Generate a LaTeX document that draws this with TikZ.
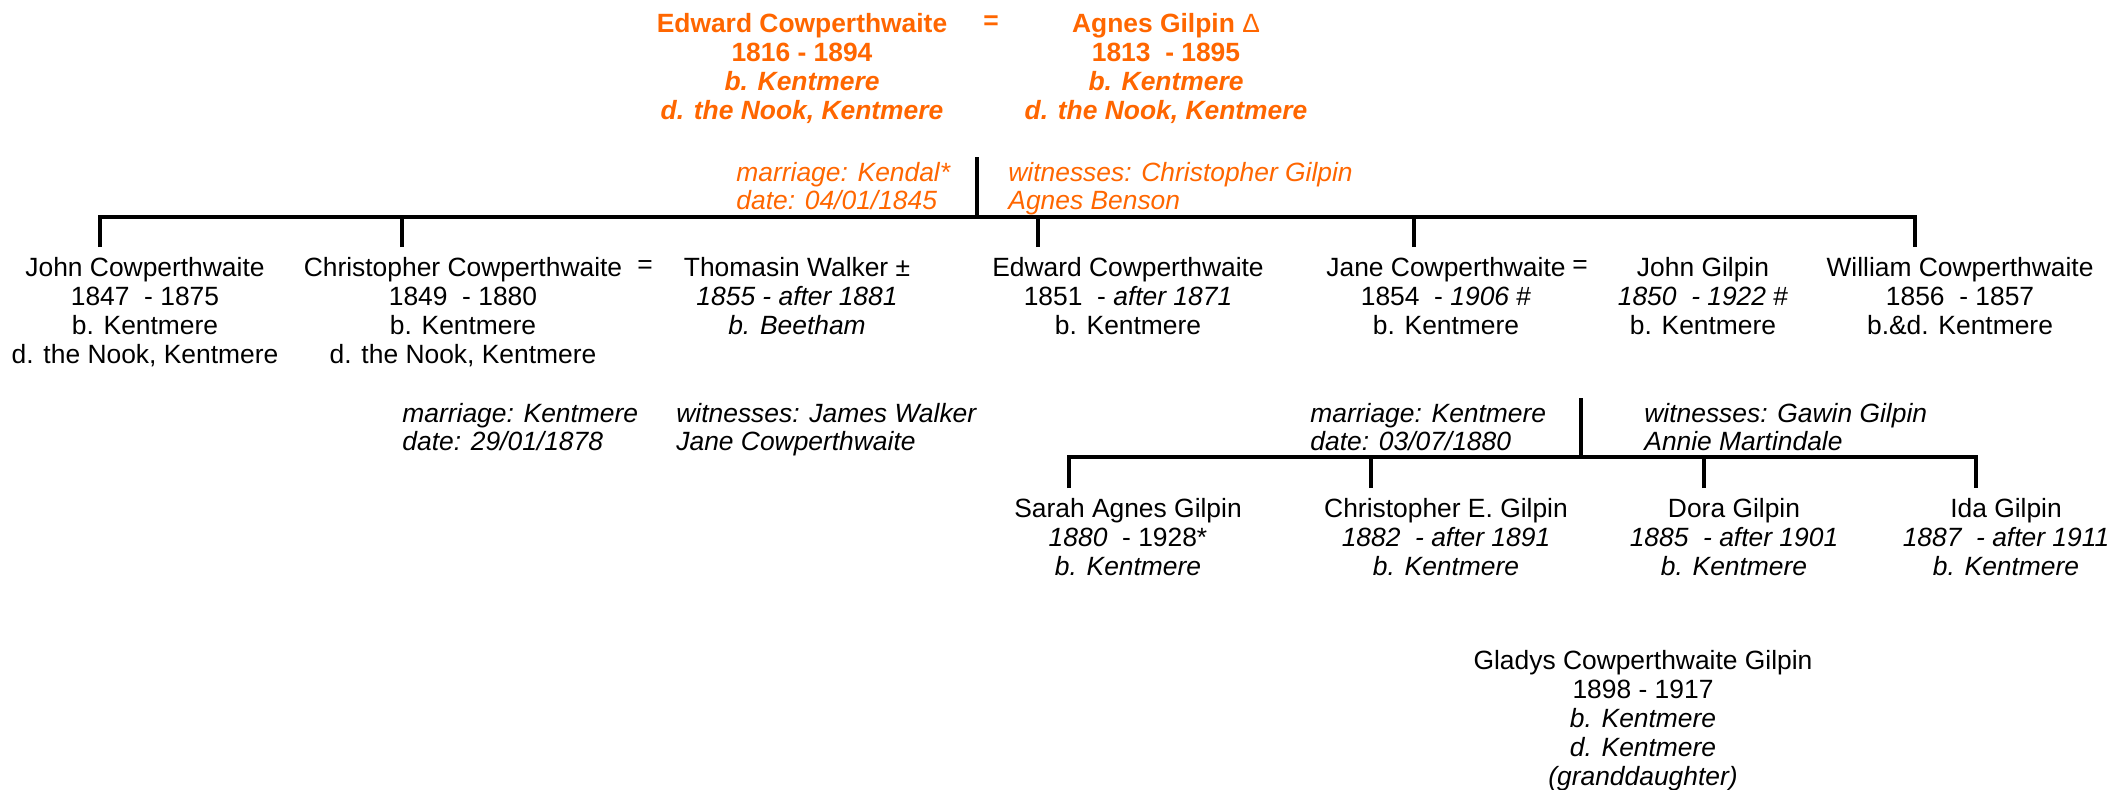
\documentclass[tikz,border=0pt]{standalone}
\usepackage{fontspec}
\setmainfont{Liberation Sans}
\usepackage{xcolor}

\definecolor{kinorange}{RGB}{255,102,0}

\begin{document}
\begin{tikzpicture}[x=0.5pt, y=-0.5pt,
    person/.style={align=center, inner sep=0pt, anchor=north, font=\fontsize{13.2}{14.5}\selectfont},
    ancestor/.style={person, text=kinorange, font=\fontsize{13.2}{14.5}\selectfont\bfseries},
    note/.style={align=left, inner sep=0pt, anchor=north west, font=\fontsize{13.2}{13.8}\selectfont\itshape},
    wed/.style={inner sep=0pt, font=\fontsize{13.2}{14.5}\selectfont},
    tree/.style={line width=1.6pt, line join=miter}]

    \useasboundingbox (0,0) rectangle (2114,789);

    % The couple at the top
    \node[ancestor] (edward) at (802, 13) {Edward Cowperthwaite\\1816 - 1894\\\textit{b. Kentmere}\\\textit{d. the Nook, Kentmere}};
    \node[wed, text=kinorange, font=\fontsize{13.2}{14.5}\selectfont\bfseries] (eqtop) at (991, 23) {=};
    \node[ancestor] (agnes) at (1166, 13) {Agnes Gilpin {\mdseries Δ}\\1813\ \ - 1895\\\textit{b. Kentmere}\\\textit{d. the Nook, Kentmere}};

    \node[note, text=kinorange] (wedtop) at (736, 162) {marriage: Kendal*\\date: 04/01/1845};
    \node[note, text=kinorange] (wittop) at (1008, 162) {witnesses: Christopher Gilpin\\Agnes Benson};

    % Children
    \node[person] (johnC) at (145, 257) {John Cowperthwaite\\1847\ \ - 1875\\b. Kentmere\\d. the Nook, Kentmere};
    \node[person] (chrisC) at (463, 257) {Christopher Cowperthwaite\\1849\ \ - 1880\\b. Kentmere\\d. the Nook, Kentmere};
    \node[wed] (eqchris) at (645, 267) {=};
    \node[person] (thomasin) at (797, 257) {Thomasin Walker ±\\\textit{1855 - after 1881}\\\textit{b. Beetham}};
    \node[person] (edwardC) at (1128, 257) {Edward Cowperthwaite\\1851\ \ - \textit{after 1871}\\b. Kentmere};
    \node[person] (janeC) at (1446, 257) {Jane Cowperthwaite\\1854\ \ - \textit{1906} \#\\b. Kentmere};
    \node[wed] (eqjane) at (1580, 267) {=};
    \node[person] (johnG) at (1703, 257) {John Gilpin\\\textit{1850\ \ - 1922} \#\\b. Kentmere};
    \node[person] (williamC) at (1960, 257) {William Cowperthwaite\\1856\ \ - 1857\\b.\&d. Kentmere};

    \node[note] (wedchris) at (402, 403) {marriage: Kentmere\\date: 29/01/1878};
    \node[note] (witchris) at (676, 403) {witnesses: James Walker\\Jane Cowperthwaite};

    \node[note] (wedjane) at (1310, 403) {marriage: Kentmere\\date: 03/07/1880};
    \node[note] (witjane) at (1644, 403) {witnesses: Gawin Gilpin\\Annie Martindale};

    % Grandchildren
    \node[person] (sarah) at (1128, 498) {Sarah Agnes Gilpin\\\textit{1880}\ \ - 1928*\\\textit{b. Kentmere}};
    \node[person] (chrisE) at (1446, 498) {Christopher E. Gilpin\\\textit{1882\ \ - after 1891}\\\textit{b. Kentmere}};
    \node[person] (dora) at (1734, 498) {Dora Gilpin\\\textit{1885\ \ - after 1901}\\\textit{b. Kentmere}};
    \node[person] (ida) at (2006, 498) {Ida Gilpin\\\textit{1887\ \ - after 1911}\\\textit{b. Kentmere}};

    \node[person] (gladys) at (1643, 650) {Gladys Cowperthwaite Gilpin\\1898 - 1917\\\textit{b. Kentmere}\\\textit{d. Kentmere}\\\textit{(granddaughter)}};

    % Tree lines, first generation
    \coordinate (m1) at (977, 157);
    \coordinate (m1bar) at (977, 217);
    \coordinate (c1) at (100, 247);
    \coordinate (c2) at (402, 247);
    \coordinate (c3) at (1038, 247);
    \coordinate (c4) at (1414, 247);
    \coordinate (c5) at (1915, 247);

    \draw[tree] (m1) -- (m1bar);
    \draw[tree] (c1) -- (c1 |- m1bar) -- (c5 |- m1bar) -- (c5);
    \draw[tree] (c2) -- (c2 |- m1bar);
    \draw[tree] (c3) -- (c3 |- m1bar);
    \draw[tree] (c4) -- (c4 |- m1bar);

    % Tree lines, second generation
    \coordinate (m2) at (1581, 398);
    \coordinate (m2bar) at (1581, 457);
    \coordinate (g1) at (1069, 488);
    \coordinate (g2) at (1371, 488);
    \coordinate (g3) at (1704, 488);
    \coordinate (g4) at (1976, 488);

    \draw[tree] (m2) -- (m2bar);
    \draw[tree] (g1) -- (g1 |- m2bar) -- (g4 |- m2bar) -- (g4);
    \draw[tree] (g2) -- (g2 |- m2bar);
    \draw[tree] (g3) -- (g3 |- m2bar);

\end{tikzpicture}
\end{document}
